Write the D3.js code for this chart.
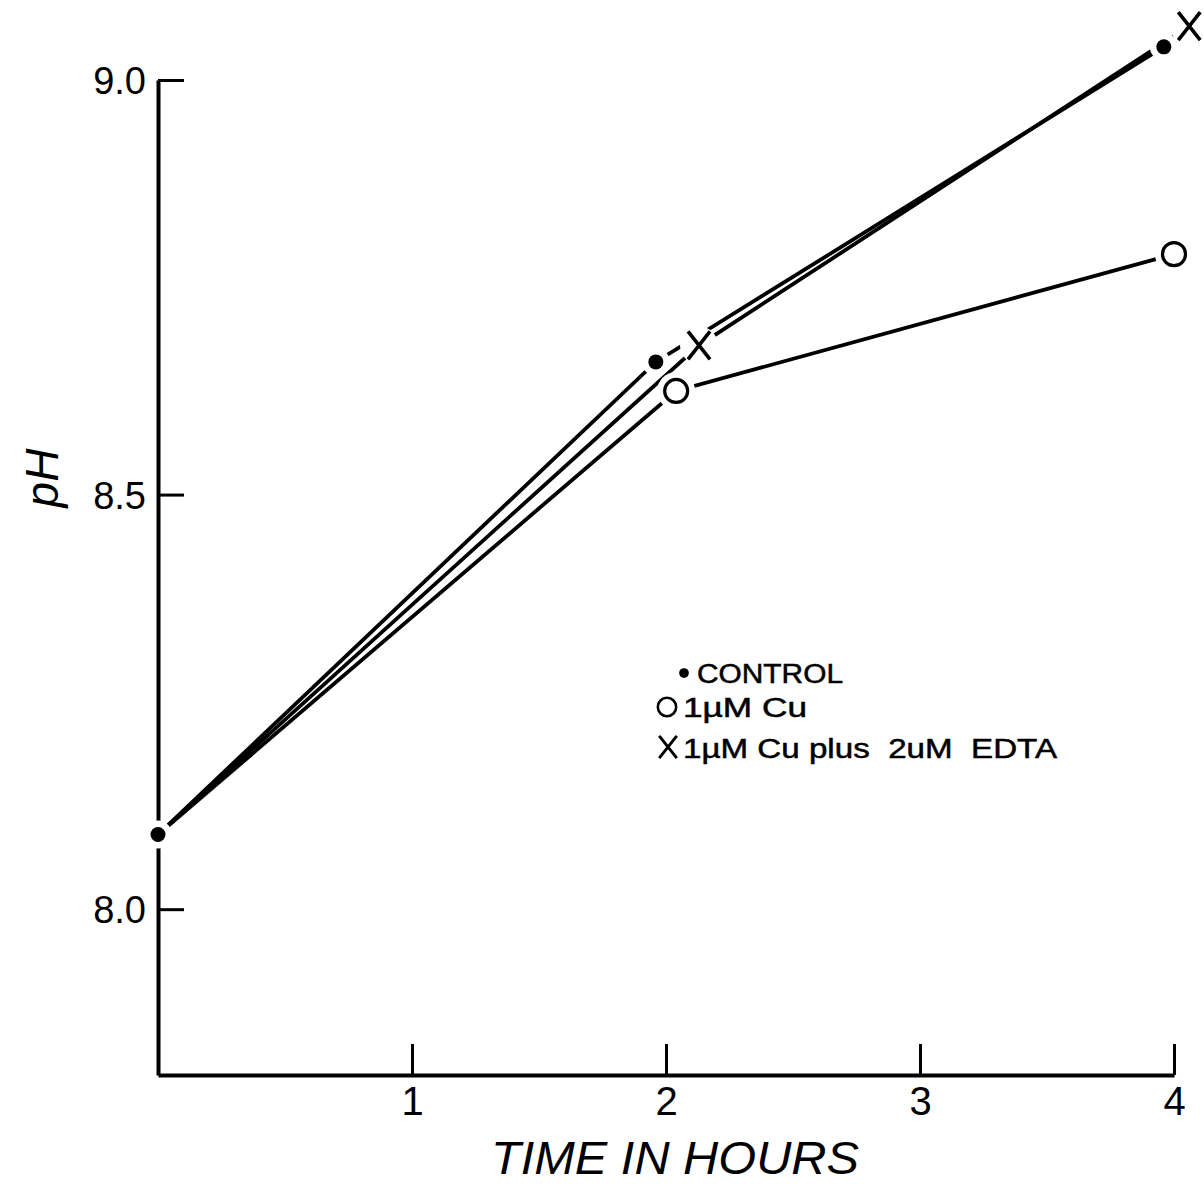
<!DOCTYPE html>
<html>
<head>
<meta charset="utf-8">
<script src="https://cdn.jsdelivr.net/npm/d3@7"></script>
<style>
  html, body { margin: 0; padding: 0; background: #fff; }
  svg { display: block; }
  text { fill: #000; }
</style>
</head>
<body>
<script>
// pH of the medium over time, three treatments
const controlTime = [0, 1.96, 3.96];
const controlPH   = [8.09, 8.66, 9.04];
const cuTime      = [0, 2.04, 4.0];
const cuPH        = [8.09, 8.625, 8.79];
const edtaTime    = [0, 2.13, 4.06];
const edtaPH      = [8.09, 8.68, 9.065];

const xTicks = [1, 2, 3, 4];
const yTicks = [8.0, 8.5, 9.0];
const legendLabels = ["CONTROL", "1\u00B5M Cu", "1\u00B5M Cu plus  2uM  EDTA"];
const xTitle = "TIME IN HOURS";
const yTitle = "pH";

const W = 1204, H = 1184;
const svg = d3.select("body").append("svg").attr("width", W).attr("height", H);

const x = d3.scaleLinear().domain([0, 4]).range([158, 1174]);
const y = d3.scaleLinear().domain([7.8, 9.0]).range([1075, 80]);

const ink = "#000";
const font = "'Liberation Sans', Arial, sans-serif";

// axes
const gx = svg.append("g").attr("transform", `translate(0,${y(7.8)})`)
  .call(d3.axisBottom(x).tickValues(xTicks).tickFormat(d3.format("d"))
    .tickSize(-31).tickSizeOuter(0).tickPadding(8));
const gy = svg.append("g").attr("transform", `translate(${x(0)},0)`)
  .call(d3.axisLeft(y).tickValues(yTicks).tickFormat(d3.format(".1f"))
    .tickSize(-26).tickSizeOuter(0).tickPadding(12));

[gx, gy].forEach(g => {
  g.select(".domain").attr("stroke", ink).attr("stroke-width", 4);
  g.selectAll(".tick line").attr("stroke", ink).attr("stroke-width", 3);
  g.selectAll(".tick text").attr("fill", ink).attr("font-family", font);
});
gx.selectAll(".tick text").attr("font-size", 40).attr("dy", "0.8em");
gy.selectAll(".tick text").attr("font-size", 38).attr("dy", "0.36em");

// axis titles
svg.append("text")
  .attr("x", 675).attr("y", 1174)
  .attr("text-anchor", "middle")
  .attr("font-family", font).attr("font-style", "italic")
  .attr("font-size", 46).attr("textLength", 368).attr("lengthAdjust", "spacingAndGlyphs")
  .text(xTitle);
svg.append("text")
  .attr("transform", "translate(58,478) rotate(-90)")
  .attr("text-anchor", "middle")
  .attr("font-family", font).attr("font-style", "italic")
  .attr("font-size", 46)
  .text(yTitle);

// series
const series = [
  { t: controlTime, v: controlPH, marker: "dot" },
  { t: cuTime,      v: cuPH,      marker: "ring" },
  { t: edtaTime,    v: edtaPH,    marker: "cross" }
];

const line = d3.line().x(d => x(d[0])).y(d => y(d[1]));
series.forEach(s => {
  svg.append("path")
    .datum(d3.zip(s.t, s.v))
    .attr("d", line)
    .attr("fill", "none").attr("stroke", ink).attr("stroke-width", 3.8)
    .attr("stroke-linecap", "round");
});

function drawMarker(g, kind, cx, cy, scale) {
  if (kind === "dot") {
    g.append("circle").attr("cx", cx).attr("cy", cy).attr("r", 7.5 * scale).attr("fill", ink);
  } else if (kind === "ring") {
    g.append("circle").attr("cx", cx).attr("cy", cy).attr("r", 11.5 * scale)
      .attr("fill", "#fff").attr("stroke", ink).attr("stroke-width", 3.2 * scale);
  } else {
    const hx = 11 * scale, hy = 14 * scale;
    g.append("path")
      .attr("d", `M${cx - hx},${cy - hy}L${cx + hx},${cy + hy}M${cx + hx},${cy - hy}L${cx - hx},${cy + hy}`)
      .attr("stroke", ink).attr("stroke-width", 3.6 * scale).attr("fill", "none");
  }
}

// points shared by every series at time zero are marked once
const pts = [];
series.forEach((s, si) => {
  s.t.forEach((t, i) => {
    if (si > 0 && i === 0) return;
    pts.push({ t, v: s.v[i], marker: s.marker });
  });
});

// white halo keeps the lines clear of each symbol
svg.append("g").selectAll("circle").data(pts).join("circle")
  .attr("cx", d => x(d.t)).attr("cy", d => y(d.v))
  .attr("r", d => d.marker === "dot" ? 14 : 19)
  .attr("fill", "#fff");

const mg = svg.append("g");
pts.forEach(d => drawMarker(mg, d.marker, x(d.t), y(d.v), 1));

// legend
const legendRows = [
  { marker: "dot",   mx: 684, my: 673, tx: 697, ty: 683, len: 146 },
  { marker: "ring",  mx: 667, my: 707, tx: 683, ty: 717, len: 124 },
  { marker: "cross", mx: 668, my: 747, tx: 683, ty: 758, len: 374 }
];
const lg = svg.append("g");
legendRows.forEach((r, i) => {
  drawMarker(lg, r.marker, r.mx, r.my, r.marker === "dot" ? 0.65 : 0.8);
  lg.append("text")
    .attr("x", r.tx).attr("y", r.ty)
    .attr("font-family", font).attr("font-size", 27)
    .attr("stroke", ink).attr("stroke-width", 0.5)
    .attr("xml:space", "preserve")
    .style("white-space", "pre")
    .attr("textLength", r.len).attr("lengthAdjust", "spacingAndGlyphs")
    .text(legendLabels[i]);
});
</script>
</body>
</html>
